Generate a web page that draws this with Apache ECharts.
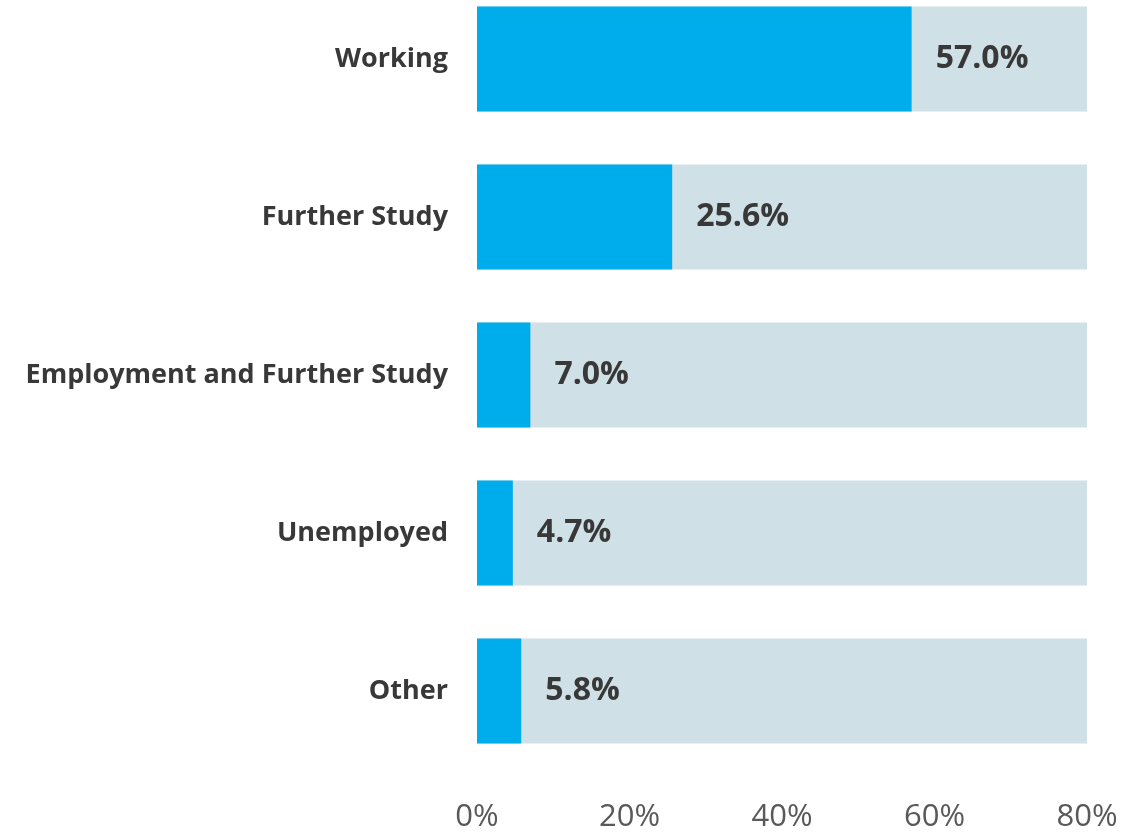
<!DOCTYPE html>
<html>
<head>
<meta charset="utf-8">
<script src="https://cdn.jsdelivr.net/npm/echarts@6/dist/echarts.min.js"></script>
<style>
html,body{margin:0;padding:0;background:#fff;overflow:hidden;}
#wrap{position:relative;width:1125px;height:837px;overflow:hidden;}
#chart{position:absolute;left:0;top:-20px;width:1125px;height:857px;}
</style>
</head>
<body>
<div id="wrap"><div id="chart"></div></div>
<script>
var categories = ["Working", "Further Study", "Employment and Further Study", "Unemployed", "Other"];
var values = [57.0, 25.6, 7.0, 4.7, 5.8];
var axisMax = 80;
var backgroundValues = [80, 80, 80, 80, 80];

var chart = echarts.init(document.getElementById('chart'));
chart.setOption({
  animation: false,
  backgroundColor: '#ffffff',
  grid: { left: 477, right: 38, top: 0, bottom: 67, containLabel: false },
  xAxis: {
    type: 'value',
    min: 0,
    max: axisMax,
    interval: 20,
    axisLine: { show: false },
    axisTick: { show: false },
    splitLine: { show: false },
    axisLabel: {
      formatter: '{value}%',
      fontFamily: 'Open Sans',
      fontSize: 31,
      color: '#595959',
      margin: 32
    }
  },
  yAxis: {
    type: 'category',
    data: categories,
    inverse: true,
    axisLine: { show: false },
    axisTick: { show: false },
    axisLabel: {
      fontFamily: 'Open Sans',
      fontWeight: 'bold',
      fontSize: 27,
      color: '#383838',
      margin: 29
    }
  },
  series: [
    {
      type: 'bar',
      data: backgroundValues,
      barWidth: 105,
      barGap: '-100%',
      silent: true,
      itemStyle: { color: '#d0e0e7' }
    },
    {
      type: 'bar',
      data: values,
      barWidth: 105,
      itemStyle: { color: '#00adec' },
      label: {
        show: true,
        position: 'right',
        distance: 24,
        formatter: function (p) { return p.value.toFixed(1) + '%'; },
        fontFamily: 'Open Sans',
        fontWeight: 'bold',
        fontSize: 32,
        color: '#383838'
      }
    }
  ]
});
</script>
</body>
</html>
